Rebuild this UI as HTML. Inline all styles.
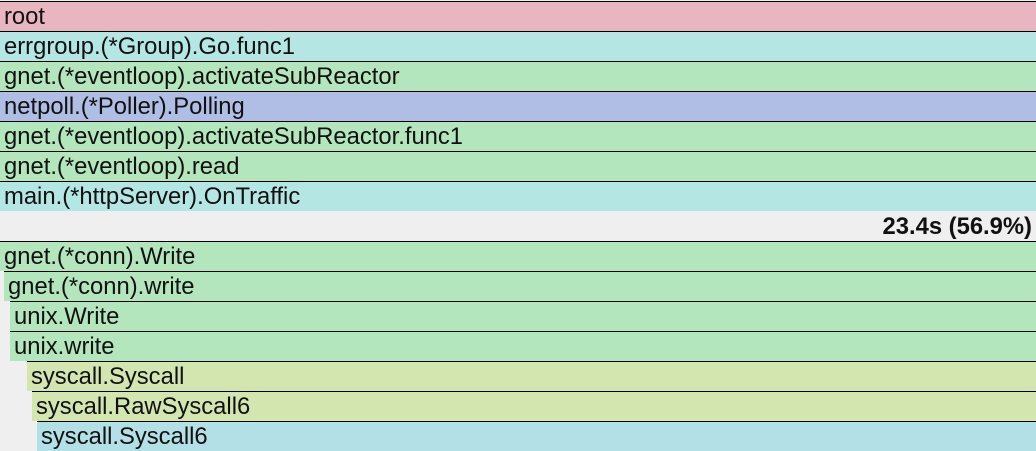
<!DOCTYPE html>
<html><head><style>
body{margin:0;width:1036px;height:451px;background:#efefef;position:relative;overflow:hidden;font-family:"Liberation Sans",sans-serif;}
.r{position:absolute;right:0;height:29px;border-top:1px solid #000;font-size:23.8px;line-height:30px;padding-left:4px;box-sizing:content-box;color:#111;white-space:nowrap;overflow:hidden;}
</style></head><body>
<div class="r" style="top:1px;left:0;background:#e8b6c0">root</div>
<div class="r" style="top:31px;left:0;background:#b4e6e4">errgroup.(*Group).Go.func1</div>
<div class="r" style="top:61px;left:0;background:#b3e6bd">gnet.(*eventloop).activateSubReactor</div>
<div class="r" style="top:91px;left:0;background:#b0bee6">netpoll.(*Poller).Polling</div>
<div class="r" style="top:121px;left:0;background:#b3e6bd">gnet.(*eventloop).activateSubReactor.func1</div>
<div class="r" style="top:151px;left:0;background:#b3e6bd">gnet.(*eventloop).read</div>
<div class="r" style="top:181px;left:0;background:#b4e6e4">main.(*httpServer).OnTraffic</div>
<div style="position:absolute;top:211px;right:4px;font-size:23.8px;line-height:32px;font-weight:bold;color:#111">23.4s (56.9%)</div>
<div class="r" style="top:241px;left:0;background:#b3e6bd">gnet.(*conn).Write</div>
<div class="r" style="top:271px;left:4px;background:#b3e6bd">gnet.(*conn).write</div>
<div class="r" style="top:301px;left:10px;background:#b3e6bd">unix.Write</div>
<div class="r" style="top:331px;left:10px;background:#b3e6bd">unix.write</div>
<div class="r" style="top:361px;left:27px;background:#d4e6b0">syscall.Syscall</div>
<div class="r" style="top:391px;left:32px;background:#d4e6b0">syscall.RawSyscall6</div>
<div class="r" style="top:421px;left:37px;background:#b3dfe6">syscall.Syscall6</div>
</body></html>
